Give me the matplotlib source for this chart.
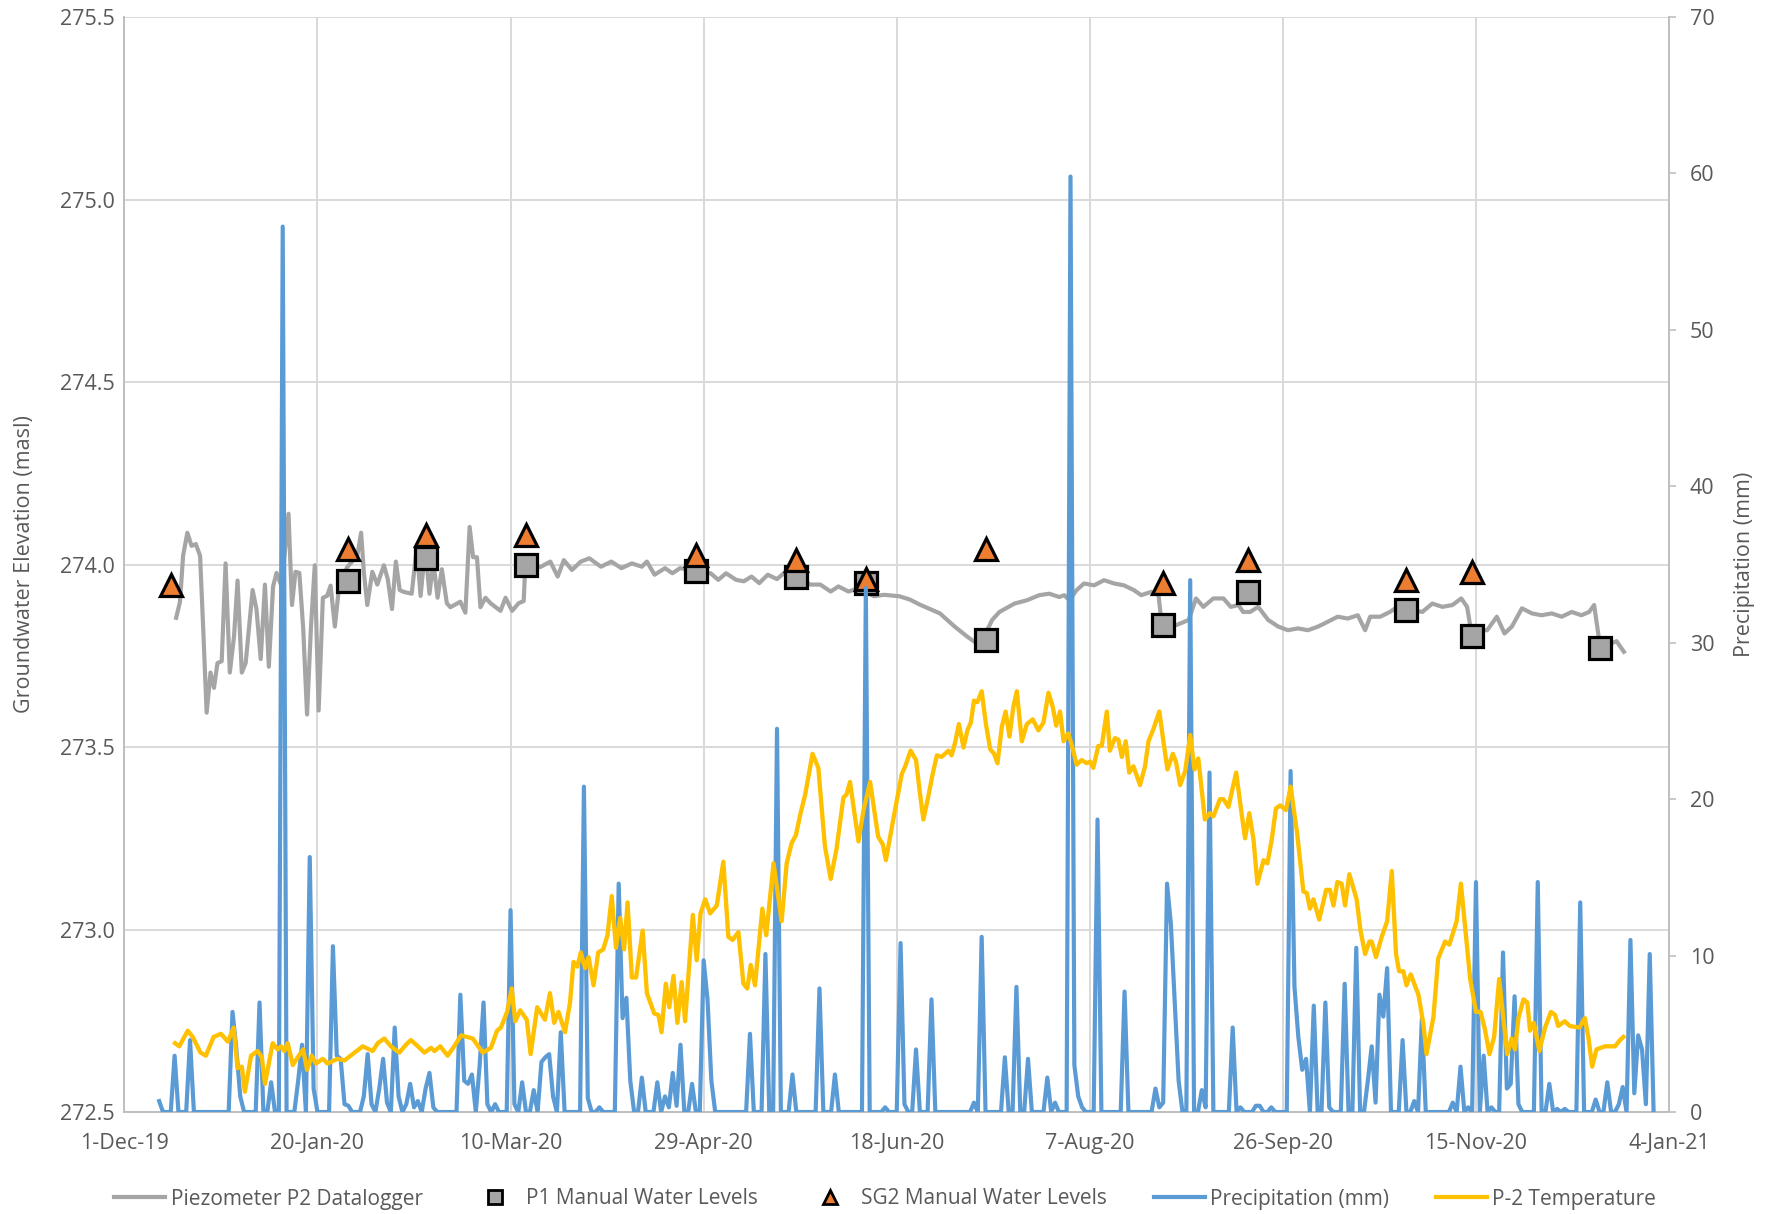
import matplotlib
matplotlib.use("Agg")
import matplotlib.pyplot as plt
import matplotlib.dates as mdates
from matplotlib.lines import Line2D
from matplotlib.ticker import FuncFormatter, FixedLocator
import numpy as np
import pandas as pd

plt.rcParams['font.family'] = ['Open Sans', 'DejaVu Sans']

start = pd.Timestamp('2019-12-01')

# Piezometer P2 datalogger (days after 1-Dec-19, masl)
piezo_day = [13.4, 14.4, 15.2, 16.3, 17.4, 18.5, 19.6, 20.4, 21.3, 22.3, 23.2, 24.1, 25.2, 26.2,
             27.3, 28.4, 29.3, 30.4, 31.4, 33.2, 34.2, 35.3, 36.4, 37.4, 38.5, 39.4, 40.7, 42.5,
             43.4, 44.3, 45.3, 46.3, 47.3, 48.3, 49.3, 50.3, 51.4, 52.5, 53.4, 54.5, 55.6, 57.7,
             60.3, 61.3, 62.0, 62.9, 64.2, 65.5, 67.2, 68.2, 69.3, 70.3, 71.3, 72.3, 74.4, 75.7,
             76.7, 77.9, 79.0, 80.0, 81.1, 82.2, 83.5, 84.4, 87.0, 88.3, 89.4, 90.3, 91.3, 92.2,
             93.5, 94.8, 97.4, 98.7, 100.4, 102.1, 103.4, 103.8, 107.7, 110.3, 112.2, 113.8,
             115.9, 118.2, 120.4, 123.4, 126.1, 128.7, 131.4, 134.0, 135.3, 137.3, 140.0, 141.9,
             143.9, 146.6, 151.8, 153.8, 155.8, 158.4, 160.4, 162.4, 164.4, 166.6, 169.0, 171.7,
             177.6, 180.2, 182.9, 184.9, 187.5, 190.1, 194.1, 196.7, 200.7, 203.4, 206.0, 207.3,
             211.2, 215.0, 218.3, 220.2, 222.5, 224.7, 226.6, 230.5, 233.7, 236.9, 239.5, 242.1,
             243.4, 244.7, 246.6, 248.5, 251.1, 253.7, 256.3, 258.8, 261.4, 263.3, 265.9, 267.8,
             268.5, 272.4, 275.6, 277.5, 279.4, 282.0, 284.6, 286.5, 288.5, 289.7, 291.5, 293.6,
             296.2, 298.8, 301.3, 303.9, 306.5, 309.1, 311.6, 314.2, 316.8, 319.4, 321.3, 322.6,
             325.2, 327.7, 329.7, 336.1, 338.7, 341.3, 343.9, 346.2, 347.7, 348.7, 352.9, 355.4,
             357.4, 359.3, 361.9, 364.5, 367.0, 369.6, 372.2, 374.8, 377.3, 379.3, 380.6, 381.9,
             385.1, 386.4, 388.3]
piezo_elev = [273.854, 273.898, 274.024, 274.087, 274.051, 274.056, 274.024, 273.826, 273.594,
              273.704, 273.662, 273.730, 273.735, 274.003, 273.704, 273.804, 273.956, 273.704,
              273.730, 273.930, 273.878, 273.741, 273.945, 273.720, 273.940, 273.977, 273.940,
              274.139, 273.889, 273.980, 273.977, 273.826, 273.589, 273.826, 273.998, 273.600,
              273.909, 273.914, 273.942, 273.830, 273.940, 273.993, 274.024, 274.087, 273.980,
              273.889, 273.980, 273.945, 273.998, 273.960, 273.878, 274.008, 273.930, 273.925,
              273.920, 274.045, 273.914, 274.045, 273.920, 274.008, 273.909, 273.987, 273.894,
              273.883, 273.898, 273.868, 274.103, 274.020, 274.020, 273.883, 273.909, 273.894,
              273.873, 273.909, 273.873, 273.894, 273.900, 273.993, 273.993, 274.008, 273.967,
              274.012, 273.985, 274.008, 274.017, 273.994, 274.008, 273.990, 274.003, 273.994,
              274.008, 273.972, 273.990, 273.976, 273.990, 273.985, 273.976, 273.958, 273.976,
              273.958, 273.954, 273.967, 273.949, 273.972, 273.960, 273.985, 273.945, 273.945,
              273.926, 273.940, 273.926, 273.935, 273.913, 273.917, 273.913, 273.904, 273.890,
              273.884, 273.866, 273.830, 273.802, 273.788, 273.800, 273.848, 273.870, 273.893,
              273.902, 273.916, 273.920, 273.911, 273.916, 273.902, 273.930, 273.948, 273.943,
              273.957, 273.948, 273.943, 273.930, 273.916, 273.925, 273.916, 273.848, 273.834,
              273.848, 273.907, 273.884, 273.907, 273.907, 273.884, 273.889, 273.870, 273.870,
              273.884, 273.848, 273.830, 273.820, 273.825, 273.820, 273.830, 273.843, 273.857,
              273.852, 273.861, 273.820, 273.857, 273.857, 273.870, 273.884, 273.870, 273.893,
              273.884, 273.889, 273.907, 273.884, 273.820, 273.820, 273.857, 273.811, 273.830,
              273.880, 273.866, 273.861, 273.866, 273.857, 273.870, 273.861, 273.870, 273.889,
              273.793, 273.784, 273.790, 273.761]

# P1 manual water levels
p1_day = [58, 78, 104, 148, 174, 192, 223, 269, 291, 332, 349, 382]
p1_elev = [273.955, 274.017, 273.998, 273.983, 273.967, 273.949, 273.794, 273.834, 273.924,
           273.875, 273.803, 273.772]

# SG2 manual water levels
sg2_day = [12, 58, 78, 104, 148, 174, 192, 223, 269, 291, 332, 349]
sg2_elev = [273.943, 274.042, 274.082, 274.082, 274.026, 274.011, 273.961, 274.042, 273.949,
            274.011, 273.958, 273.980]

# daily precipitation (mm), days not listed are dry
precip_first, precip_last = 9, 396
wet_days = {
    9: 0.7, 13: 3.6, 17: 4.6, 28: 6.4, 29: 4.0, 30: 1.0, 35: 7.0, 38: 1.9, 41: 56.6,
    45: 2.0, 46: 4.3, 48: 16.3, 49: 1.5, 54: 10.6, 55: 3.6, 56: 3.4, 57: 0.5, 58: 0.4,
    62: 1.0, 63: 3.7, 64: 0.5, 66: 1.5, 67: 3.4, 68: 0.6, 70: 5.4, 71: 1.0, 73: 0.5,
    74: 1.8, 75: 0.3, 76: 0.7, 78: 1.5, 79: 2.5, 80: 0.3, 87: 7.5, 88: 2.0, 89: 1.8,
    90: 2.4, 92: 3.0, 93: 7.0, 94: 0.5, 96: 0.5, 100: 12.9, 101: 0.5, 103: 1.9, 106: 1.4,
    108: 3.2, 109: 3.5, 110: 3.7, 111: 1.0, 113: 5.1, 119: 20.8, 120: 0.9, 123: 0.3,
    128: 14.6, 129: 6.0, 130: 7.3, 131: 2.0, 134: 2.2, 138: 1.9, 140: 1.0, 141: 0.3,
    142: 2.5, 143: 0.4, 144: 4.3, 147: 1.8, 150: 9.7, 151: 7.2, 152: 2.0, 162: 5.0,
    166: 10.1, 169: 24.5, 173: 2.4, 180: 7.9, 184: 2.4, 192: 33.5, 197: 0.3, 201: 10.8,
    202: 0.5, 205: 4.0, 209: 7.2, 220: 0.6, 222: 11.2, 228: 3.5, 231: 8.0, 234: 3.4,
    239: 2.2, 241: 0.6, 245: 59.8, 246: 3.0, 247: 1.0, 248: 0.3, 252: 18.7, 259: 7.7,
    267: 1.5, 268: 0.3, 269: 0.6, 270: 14.6, 271: 12.0, 272: 7.0, 273: 2.0, 276: 34.0,
    279: 1.4, 280: 0.3, 281: 21.7, 287: 5.4, 289: 0.3, 293: 0.4, 294: 0.4, 297: 0.3,
    302: 21.8, 303: 8.0, 304: 4.8, 305: 2.7, 306: 3.4, 308: 6.8, 311: 7.0, 312: 0.3,
    316: 8.2, 319: 10.5, 322: 2.0, 323: 4.2, 324: 0.6, 325: 7.5, 326: 6.1, 327: 9.2,
    331: 4.6, 334: 0.7, 336: 6.0, 344: 0.6, 346: 2.9, 348: 0.3, 350: 14.7, 352: 3.6,
    354: 0.3, 357: 10.2, 358: 1.5, 359: 1.8, 360: 7.4, 361: 0.5, 366: 14.7, 369: 1.8,
    371: 0.2, 373: 0.2, 377: 13.4, 381: 0.8, 384: 1.9, 387: 0.5, 388: 1.6, 390: 11.0,
    391: 1.2, 392: 4.9, 393: 4.0, 394: 0.5, 395: 10.1,
}

# P-2 temperature (days after 1-Dec-19, deg C)
temp_day = [13.1, 14.2, 16.4, 17.7, 19.7, 21.1, 23.1, 25.0, 26.8, 28.3, 29.3, 30.4, 31.2, 32.8,
            34.5, 35.6, 36.4, 38.4, 39.7, 40.6, 41.4, 42.3, 43.6, 44.9, 46.3, 47.3, 48.5, 49.6,
            51.4, 52.6, 55.2, 57.0, 59.6, 61.7, 64.3, 65.6, 67.3, 69.0, 71.2, 72.9, 74.2, 76.0,
            77.7, 79.4, 80.3, 81.8, 83.7, 85.4, 87.2, 90.2, 92.8, 94.9, 96.5, 97.5, 99.1, 100.3,
            101.2, 102.5, 104.2, 105.2, 106.9, 108.9, 110.2, 111.3, 112.4, 114.1, 115.4, 116.3,
            117.3, 118.2, 119.3, 120.2, 121.5, 122.7, 124.0, 125.1, 126.2, 127.3, 128.4, 129.4,
            130.3, 131.4, 132.5, 134.2, 135.3, 137.2, 138.3, 139.1, 140.2, 141.1, 142.2, 143.2,
            144.3, 145.2, 147.2, 148.2, 149.2, 150.4, 151.7, 153.4, 155.1, 156.4, 157.5, 159.0,
            160.3, 161.3, 162.2, 163.3, 165.2, 166.2, 168.1, 170.2, 171.5, 172.8, 173.9, 175.0,
            176.3, 178.2, 179.7, 181.4, 182.9, 184.4, 186.2, 187.0, 187.9, 190.1, 191.4, 193.1,
            195.2, 196.4, 197.2, 199.1, 201.3, 202.2, 203.6, 205.0, 206.0, 206.9, 208.2, 209.3,
            210.4, 211.6, 213.4, 214.2, 215.1, 216.1, 217.3, 218.3, 219.2, 220.0, 220.9, 222.0,
            223.1, 224.2, 225.2, 226.1, 227.2, 228.2, 229.2, 230.2, 231.1, 232.4, 233.7, 235.2,
            236.7, 238.0, 239.3, 240.4, 241.3, 242.3, 243.2, 244.4, 245.3, 246.6, 247.9, 249.2,
            250.1, 250.9, 252.2, 253.1, 254.4, 255.2, 256.5, 257.4, 258.3, 259.3, 260.2, 261.3,
            263.0, 264.3, 265.2, 266.5, 268.0, 269.0, 270.1, 271.5, 272.3, 273.4, 274.7, 276.0,
            277.1, 278.1, 279.8, 281.1, 282.0, 283.7, 284.6, 285.9, 287.9, 289.3, 290.2, 291.3,
            292.4, 293.4, 295.0, 296.0, 297.1, 298.2, 299.3, 300.8, 302.0, 303.7, 305.3, 306.2,
            307.0, 307.9, 309.4, 311.2, 312.2, 313.1, 314.1, 315.2, 316.1, 317.2, 319.1, 320.1,
            321.3, 322.4, 323.0, 324.1, 325.6, 327.0, 328.2, 329.3, 330.1, 331.2, 332.0, 333.1,
            335.1, 336.4, 337.2, 339.0, 340.2, 342.0, 343.1, 345.0, 346.1, 347.2, 348.5, 350.0,
            351.2, 352.3, 353.5, 354.7, 356.0, 357.1, 358.1, 359.2, 360.1, 361.0, 362.3, 363.3,
            364.0, 365.0, 366.4, 367.9, 369.4, 370.5, 371.3, 373.0, 374.3, 376.8, 378.2, 379.1,
            380.1, 381.2, 383.4, 386.0, 387.3, 388.2]
temp_c = [4.4, 4.2, 5.2, 4.8, 3.8, 3.6, 4.8, 5.0, 4.5, 5.4, 2.8, 2.9, 1.3, 3.6,
          3.9, 3.5, 1.8, 4.4, 4.0, 4.2, 3.9, 4.4, 3.0, 3.5, 4.0, 2.7, 3.6, 3.1,
          3.4, 3.1, 3.4, 3.3, 3.8, 4.2, 3.9, 4.4, 4.7, 4.2, 3.8, 4.3, 4.6, 4.2,
          3.8, 4.1, 3.9, 4.2, 3.6, 4.2, 4.9, 4.7, 3.8, 4.1, 5.2, 5.4, 6.4, 7.9,
          5.8, 6.5, 5.9, 3.7, 6.7, 5.9, 7.6, 5.7, 6.4, 5.1, 7.0, 9.6,
          9.3, 10.2, 9.2, 9.9, 8.1, 10.2, 10.4, 11.3, 13.8, 10.5, 12.4, 10.4,
          13.4, 8.6, 8.6, 11.6, 7.6, 6.3, 6.2, 5.1, 8.2, 6.7, 8.7, 5.7,
          8.3, 5.8, 12.6, 9.7, 12.7, 13.6, 12.7, 13.2, 16.0, 11.2, 11.0, 11.5,
          8.2, 7.9, 9.4, 8.1, 13.0, 11.3, 15.9, 12.2, 15.9, 17.2, 17.7, 19.0,
          20.3, 22.9, 22.0, 17.0, 14.9, 16.8, 20.1, 20.3, 21.1, 17.3, 19.3, 21.1,
          17.6, 17.1, 16.1, 18.7, 21.6, 22.1, 23.1, 22.5, 20.4, 18.7, 20.2, 21.6,
          22.8, 22.7, 23.1, 22.8, 23.6, 24.8, 23.3, 24.4, 24.9, 26.3, 26.2, 26.9,
          24.8, 23.2, 22.9, 22.3, 24.6, 25.6, 24.0, 25.9, 26.9, 23.7, 24.8, 25.1,
          24.4, 24.9, 26.8, 25.9, 24.7, 25.6, 23.7, 24.2, 23.5, 22.2, 22.5, 22.3,
          22.4, 22.0, 23.4, 23.4, 25.6, 23.1, 23.9, 23.8, 22.7, 23.7, 21.7, 22.1,
          20.9, 22.1, 23.7, 24.5, 25.6, 23.8, 21.9, 22.9, 22.4, 20.9, 21.8, 24.1,
          21.9, 22.6, 18.7, 19.1, 18.9, 20.0, 20.0, 19.5, 21.7, 19.1, 17.5, 19.1,
          17.4, 14.6, 16.1, 15.9, 17.4, 19.4, 19.6, 19.3, 20.8, 17.8, 14.1, 14.0,
          13.0, 13.6, 12.3, 14.2, 14.2, 13.2, 14.7, 14.6, 13.2, 15.2, 13.6, 11.6,
          10.1, 10.9, 10.9, 9.9, 11.2, 12.2, 15.4, 10.1, 9.0, 9.0, 8.1, 8.8,
          7.5, 5.6, 3.7, 6.1, 9.8, 10.9, 10.7, 12.2, 14.6, 11.8, 8.5, 6.4,
          6.4, 5.3, 3.7, 4.8, 8.5, 6.0, 3.7, 4.7, 4.0, 6.0, 7.2, 7.0,
          5.2, 5.7, 3.9, 5.4, 6.4, 6.2, 5.5, 5.8, 5.5, 5.4, 6.0, 4.8,
          2.9, 4.0, 4.2, 4.2, 4.6, 4.8]

tick_every = 50
x_end = pd.Timestamp('2021-01-04')

txt = '#595959'
grid_c = '#D9D9D9'
axis_c = '#BFBFBF'
fs = 15.5


def to_dates(days):
    return start + pd.to_timedelta(np.asarray(days, dtype=float), unit='D')


precip_days = np.arange(precip_first, precip_last + 1)
precip_mm = [wet_days.get(int(d), 0.0) for d in precip_days]

fig = plt.figure(figsize=(17.72, 12.14), dpi=100)
ax = fig.add_axes([0.0702, 0.084, 0.8717, 0.902])
ax2 = ax.twinx()

# groundwater elevations on the left axis
ax.plot(to_dates(piezo_day), piezo_elev, color='#A5A5A5', lw=3.0, zorder=3,
        solid_joinstyle='round')
ax.plot(to_dates(p1_day), p1_elev, ls='none', marker='s', ms=15.5, mfc='#A5A5A5',
        mec='black', mew=2.3, zorder=4)
ax.plot(to_dates(sg2_day), sg2_elev, ls='none', marker='^', ms=15.5, mfc='#ED7D31',
        mec='black', mew=2.3, zorder=5)

# precipitation and temperature on the right axis
ax2.plot(to_dates(precip_days), precip_mm, color='#5B9BD5', lw=3.0, zorder=3,
         solid_joinstyle='round')
ax2.plot(to_dates(temp_day), temp_c, color='#FFC000', lw=3.1, zorder=4,
         solid_joinstyle='round')

ax.set_xlim(start, x_end)
ax.set_ylim(272.5, 275.5)
ax2.set_ylim(0, 70)

xt = [start + pd.Timedelta(days=tick_every * k) for k in range(9)]
ax.xaxis.set_major_locator(FixedLocator(mdates.date2num(xt)))
ax.xaxis.set_major_formatter(FuncFormatter(
    lambda v, p: '{}-{}'.format(mdates.num2date(v).day, mdates.num2date(v).strftime('%b-%y'))))
ax.set_yticks(np.arange(272.5, 275.51, 0.5))
ax.yaxis.set_major_formatter(FuncFormatter(lambda v, p: '%.1f' % v))
ax2.set_yticks(np.arange(0, 71, 10))

ax.grid(True, color=grid_c, lw=1.4)
ax.set_axisbelow(True)

for a in (ax, ax2):
    for s in a.spines.values():
        s.set_visible(False)
ax.spines['left'].set_visible(True)
ax.spines['left'].set_color(axis_c)
ax.spines['left'].set_linewidth(1.4)
ax.spines['bottom'].set_visible(True)
ax.spines['bottom'].set_color(axis_c)
ax.spines['bottom'].set_linewidth(1.4)
ax2.spines['right'].set_visible(True)
ax2.spines['right'].set_color(axis_c)
ax2.spines['right'].set_linewidth(1.4)

ax.tick_params(axis='y', length=0, pad=7, labelsize=fs, labelcolor=txt)
ax.tick_params(axis='x', length=0, pad=15, labelsize=fs, labelcolor=txt)
ax2.tick_params(axis='y', length=5, width=1.2, color=axis_c, pad=10, labelsize=fs,
                labelcolor=txt)

ax.set_ylabel('Groundwater Elevation (masl)', fontsize=fs, color=txt)
ax.yaxis.set_label_coords(-0.058, 0.5)
ax2.set_ylabel('Precipitation (mm)', fontsize=fs, color=txt)
ax2.yaxis.set_label_coords(1.042, 0.5)

handles = [
    Line2D([], [], color='#A5A5A5', lw=3.0),
    Line2D([], [], ls='none', marker='s', ms=10, mfc='#A5A5A5', mec='black', mew=2),
    Line2D([], [], ls='none', marker='^', ms=10, mfc='#ED7D31', mec='black', mew=2),
    Line2D([], [], color='#5B9BD5', lw=3.0),
    Line2D([], [], color='#FFC000', lw=3.0),
]
labels = ['Piezometer P2 Datalogger', 'P1 Manual Water Levels', 'SG2 Manual Water Levels',
          'Precipitation (mm)', 'P-2 Temperature']
fig.legend(handles, labels, loc='center', bbox_to_anchor=(0.4995, 1 - 1199 / 1214), ncol=5,
           frameon=False, fontsize=15, labelcolor=txt, handlelength=2.45, handletextpad=0.25,
           columnspacing=2.25)

fig.savefig('out.png', dpi=100, facecolor='white')
